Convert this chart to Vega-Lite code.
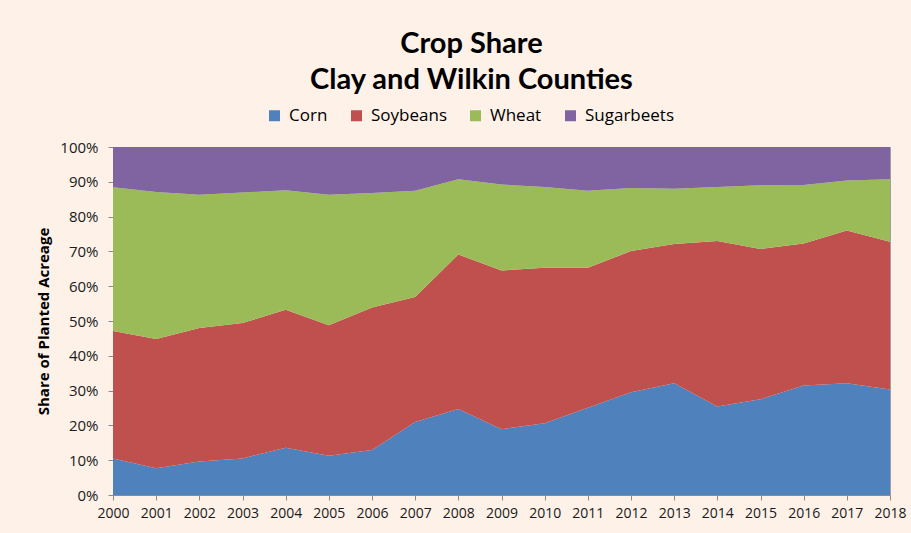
{
  "$schema": "https://vega.github.io/schema/vega-lite/v6.json",
  "width": 777,
  "height": 348,
  "autosize": {"type": "none"},
  "padding": {"left": 113, "top": 147, "right": 21, "bottom": 38},
  "background": "#FDF1E8",
  "title": {
    "text": ["Crop Share", "Clay and Wilkin Counties"],
    "font": "Lato",
    "fontSize": 29,
    "fontWeight": "bold",
    "color": "#000000",
    "anchor": "middle",
    "frame": "bounds",
    "lineHeight": 36,
    "offset": 12
  },
  "data": {
    "values": [
      {"year": 2000, "crop": "Corn", "share": 10.5}, {"year": 2000, "crop": "Soybeans", "share": 36.6}, {"year": 2000, "crop": "Wheat", "share": 41.3}, {"year": 2000, "crop": "Sugarbeets", "share": 11.6},
      {"year": 2001, "crop": "Corn", "share": 7.7}, {"year": 2001, "crop": "Soybeans", "share": 37.1}, {"year": 2001, "crop": "Wheat", "share": 42.3}, {"year": 2001, "crop": "Sugarbeets", "share": 12.9},
      {"year": 2002, "crop": "Corn", "share": 9.6}, {"year": 2002, "crop": "Soybeans", "share": 38.4}, {"year": 2002, "crop": "Wheat", "share": 38.3}, {"year": 2002, "crop": "Sugarbeets", "share": 13.7},
      {"year": 2003, "crop": "Corn", "share": 10.5}, {"year": 2003, "crop": "Soybeans", "share": 38.9}, {"year": 2003, "crop": "Wheat", "share": 37.5}, {"year": 2003, "crop": "Sugarbeets", "share": 13.1},
      {"year": 2004, "crop": "Corn", "share": 13.6}, {"year": 2004, "crop": "Soybeans", "share": 39.6}, {"year": 2004, "crop": "Wheat", "share": 34.4}, {"year": 2004, "crop": "Sugarbeets", "share": 12.4},
      {"year": 2005, "crop": "Corn", "share": 11.3}, {"year": 2005, "crop": "Soybeans", "share": 37.5}, {"year": 2005, "crop": "Wheat", "share": 37.5}, {"year": 2005, "crop": "Sugarbeets", "share": 13.7},
      {"year": 2006, "crop": "Corn", "share": 12.9}, {"year": 2006, "crop": "Soybeans", "share": 41.0}, {"year": 2006, "crop": "Wheat", "share": 32.9}, {"year": 2006, "crop": "Sugarbeets", "share": 13.2},
      {"year": 2007, "crop": "Corn", "share": 21.0}, {"year": 2007, "crop": "Soybeans", "share": 35.9}, {"year": 2007, "crop": "Wheat", "share": 30.5}, {"year": 2007, "crop": "Sugarbeets", "share": 12.6},
      {"year": 2008, "crop": "Corn", "share": 24.7}, {"year": 2008, "crop": "Soybeans", "share": 44.4}, {"year": 2008, "crop": "Wheat", "share": 21.6}, {"year": 2008, "crop": "Sugarbeets", "share": 9.3},
      {"year": 2009, "crop": "Corn", "share": 18.9}, {"year": 2009, "crop": "Soybeans", "share": 45.6}, {"year": 2009, "crop": "Wheat", "share": 24.7}, {"year": 2009, "crop": "Sugarbeets", "share": 10.8},
      {"year": 2010, "crop": "Corn", "share": 20.6}, {"year": 2010, "crop": "Soybeans", "share": 44.7}, {"year": 2010, "crop": "Wheat", "share": 23.2}, {"year": 2010, "crop": "Sugarbeets", "share": 11.5},
      {"year": 2011, "crop": "Corn", "share": 25.1}, {"year": 2011, "crop": "Soybeans", "share": 40.2}, {"year": 2011, "crop": "Wheat", "share": 22.1}, {"year": 2011, "crop": "Sugarbeets", "share": 12.6},
      {"year": 2012, "crop": "Corn", "share": 29.5}, {"year": 2012, "crop": "Soybeans", "share": 40.6}, {"year": 2012, "crop": "Wheat", "share": 18.1}, {"year": 2012, "crop": "Sugarbeets", "share": 11.8},
      {"year": 2013, "crop": "Corn", "share": 32.1}, {"year": 2013, "crop": "Soybeans", "share": 40.0}, {"year": 2013, "crop": "Wheat", "share": 15.9}, {"year": 2013, "crop": "Sugarbeets", "share": 12.0},
      {"year": 2014, "crop": "Corn", "share": 25.4}, {"year": 2014, "crop": "Soybeans", "share": 47.6}, {"year": 2014, "crop": "Wheat", "share": 15.5}, {"year": 2014, "crop": "Sugarbeets", "share": 11.5},
      {"year": 2015, "crop": "Corn", "share": 27.5}, {"year": 2015, "crop": "Soybeans", "share": 43.2}, {"year": 2015, "crop": "Wheat", "share": 18.3}, {"year": 2015, "crop": "Sugarbeets", "share": 11.0},
      {"year": 2016, "crop": "Corn", "share": 31.5}, {"year": 2016, "crop": "Soybeans", "share": 40.8}, {"year": 2016, "crop": "Wheat", "share": 16.8}, {"year": 2016, "crop": "Sugarbeets", "share": 10.9},
      {"year": 2017, "crop": "Corn", "share": 32.1}, {"year": 2017, "crop": "Soybeans", "share": 43.9}, {"year": 2017, "crop": "Wheat", "share": 14.4}, {"year": 2017, "crop": "Sugarbeets", "share": 9.6},
      {"year": 2018, "crop": "Corn", "share": 30.3}, {"year": 2018, "crop": "Soybeans", "share": 42.5}, {"year": 2018, "crop": "Wheat", "share": 17.9}, {"year": 2018, "crop": "Sugarbeets", "share": 9.3}
    ]
  },
  "transform": [
    {"calculate": "indexof(['Corn','Soybeans','Wheat','Sugarbeets'], datum.crop)", "as": "o"}
  ],
  "mark": {"type": "area", "interpolate": "linear"},
  "encoding": {
    "x": {
      "field": "year",
      "type": "quantitative",
      "scale": {"domain": [2000, 2018], "nice": false, "zero": false},
      "axis": {
        "values": [2000, 2001, 2002, 2003, 2004, 2005, 2006, 2007, 2008, 2009, 2010, 2011, 2012, 2013, 2014, 2015, 2016, 2017, 2018],
        "format": "d",
        "title": null,
        "labelFlush": false,
        "labelOverlap": false,
        "labelPadding": 6
      }
    },
    "y": {
      "field": "share",
      "type": "quantitative",
      "stack": "normalize",
      "scale": {"domain": [0, 1], "nice": false},
      "axis": {
        "format": ".0%",
        "values": [0, 0.1, 0.2, 0.3, 0.4, 0.5, 0.6, 0.7, 0.8, 0.9, 1],
        "title": "Share of Planted Acreage",
        "titleFontWeight": "bold",
        "titleFontSize": 15,
        "titlePadding": 8,
        "labelFontSize": 15,
        "labelPadding": 10,
        "labelFlush": false
      }
    },
    "color": {
      "field": "crop",
      "type": "nominal",
      "scale": {
        "domain": ["Corn", "Soybeans", "Wheat", "Sugarbeets"],
        "range": ["#4F81BD", "#C0504D", "#9BBB59", "#8064A2"]
      },
      "legend": {
        "orient": "none",
        "direction": "horizontal",
        "legendX": 153,
        "legendY": -40,
        "title": null,
        "symbolType": "square",
        "symbolSize": 121,
        "symbolStrokeWidth": 0,
        "labelFont": "Open Sans",
        "labelFontSize": 17,
        "labelColor": "#000000",
        "labelOffset": 6,
        "columnPadding": 20
      }
    },
    "order": {"field": "o", "type": "quantitative", "sort": "ascending"}
  },
  "config": {
    "view": {"stroke": "#A0A0A0", "fill": "#FDF1E8"},
    "axis": {
      "labelFont": "Open Sans",
      "labelFontSize": 14,
      "labelColor": "#1A1A1A",
      "domainColor": "#8C8C8C",
      "tickColor": "#8C8C8C",
      "tickSize": 5,
      "grid": false,
      "titleFont": "Open Sans",
      "titleColor": "#000000"
    }
  }
}
